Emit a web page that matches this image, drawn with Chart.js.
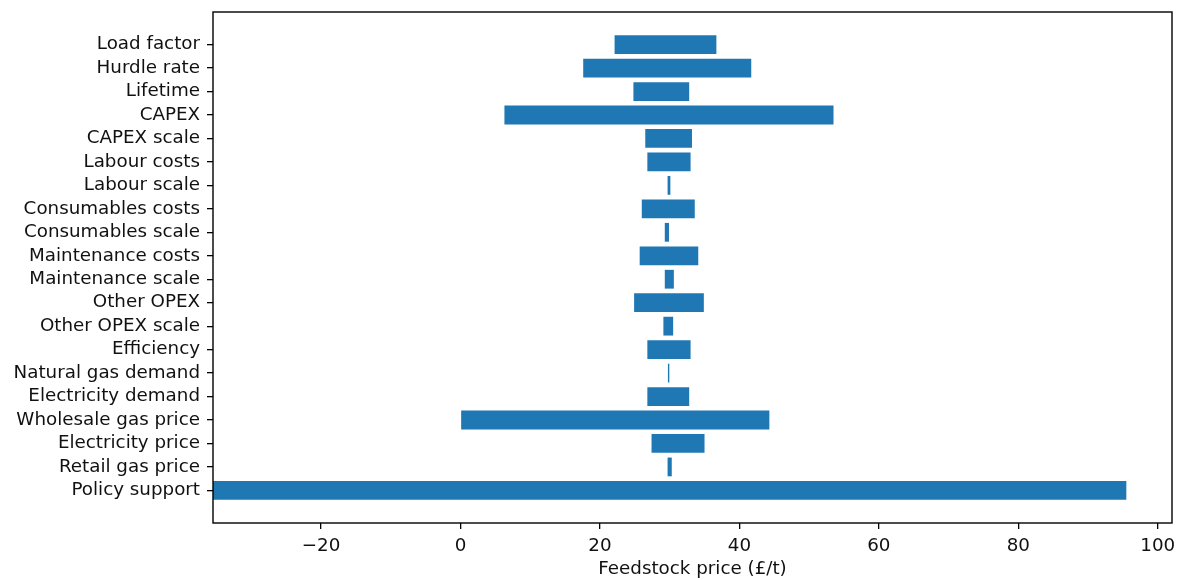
<!DOCTYPE html>
<html>
<head>
<meta charset="utf-8">
<script src="https://cdn.jsdelivr.net/npm/chart.js@4/dist/chart.umd.min.js"></script>
<style>
  html, body { margin: 0; padding: 0; background: #fff; }
  canvas { display: block; }
</style>
</head>
<body>
<canvas id="chart" width="1180" height="580"></canvas>
<script>
// Sensitivity of the feedstock price to each input (low / high case), top to bottom
const categories = [
  'Load factor', 'Hurdle rate', 'Lifetime', 'CAPEX', 'CAPEX scale',
  'Labour costs', 'Labour scale', 'Consumables costs', 'Consumables scale',
  'Maintenance costs', 'Maintenance scale', 'Other OPEX', 'Other OPEX scale',
  'Efficiency', 'Natural gas demand', 'Electricity demand',
  'Wholesale gas price', 'Electricity price', 'Retail gas price', 'Policy support'
];
const lowValues  = [22.1, 17.6, 24.8, 6.3, 26.5, 26.8, 29.7, 26.0, 29.3, 25.7,
                    29.3, 24.9, 29.1, 26.8, 29.75, 26.8, 0.0, 27.4, 29.7, -35.5];
const highValues = [36.7, 41.7, 32.8, 53.5, 33.2, 33.0, 30.1, 33.6, 29.9, 34.1,
                    30.6, 34.9, 30.5, 33.0, 29.95, 32.8, 44.3, 35.0, 30.3, 95.5];
const xTickValues = [-20, 0, 20, 40, 60, 80, 100];
const xAxisTitle = 'Feedstock price (£/t)';

const FONT = "'DejaVu Sans', sans-serif";
const BAR_COLOR = '#1f77b4';

// Data extent: left edge sticks to the lowest bar, right edge gets a 5% margin
const xMin = Math.min(...lowValues);
const xMaxData = Math.max(...highValues);
const xMax = xMaxData + 0.05 * (xMaxData - xMin);
const yPad = 0.4 + 0.05 * (categories.length - 1 + 0.8);

const points = categories.map((c, i) => ({ x: [lowValues[i], highValues[i]], y: i }));

const frame = {
  id: 'frame',
  afterDatasetsDraw(chart) {
    const { ctx, chartArea: a } = chart;
    ctx.save();
    ctx.strokeStyle = '#000';
    ctx.lineWidth = 1.4;
    ctx.strokeRect(a.left, a.top, a.right - a.left, a.bottom - a.top);
    ctx.restore();
  }
};

new Chart(document.getElementById('chart'), {
  type: 'bar',
  data: {
    datasets: [{
      data: points,
      backgroundColor: BAR_COLOR,
      borderWidth: 0,
      barPercentage: 0.8,
      categoryPercentage: 1.0
    }]
  },
  options: {
    indexAxis: 'y',
    responsive: false,
    animation: false,
    layout: { padding: { top: 12, right: 8, left: 0, bottom: 0 } },
    plugins: { legend: { display: false }, tooltip: { enabled: false } },
    scales: {
      x: {
        type: 'linear',
        min: xMin,
        max: xMax,
        afterBuildTicks: (s) => { s.ticks = xTickValues.map(v => ({ value: v })); },
        afterFit: (s) => { s.height = 57; s.paddingLeft = 0; s.paddingRight = 0; },
        border: { display: false },
        grid: { drawOnChartArea: false, drawTicks: true, tickLength: 6, color: '#000', lineWidth: 1.3 },
        ticks: {
          color: '#111',
          font: { family: FONT, size: 18.3 },
          padding: 6,
          maxRotation: 0,
          callback: (v) => (v < 0 ? '\u2212' + Math.abs(v) : String(v))
        },
        title: {
          display: true,
          text: xAxisTitle,
          color: '#111',
          font: { family: FONT, size: 18.3 },
          padding: { top: 0, bottom: 0 }
        }
      },
      y: {
        type: 'linear',
        reverse: true,
        offset: false,
        min: -yPad,
        max: categories.length - 1 + yPad,
        afterBuildTicks: (s) => { s.ticks = categories.map((c, i) => ({ value: i })); },
        afterFit: (s) => { s.width = 213; s.paddingTop = 0; s.paddingBottom = 0; },
        border: { display: false },
        grid: { offset: false, drawOnChartArea: false, drawTicks: true, tickLength: 6, color: '#000', lineWidth: 1.3 },
        ticks: {
          color: '#111',
          font: { family: FONT, size: 18.3 },
          padding: 7,
          autoSkip: false,
          callback: (v) => categories[v] ?? ''
        }
      }
    }
  },
  plugins: [frame]
});
</script>
</body>
</html>
